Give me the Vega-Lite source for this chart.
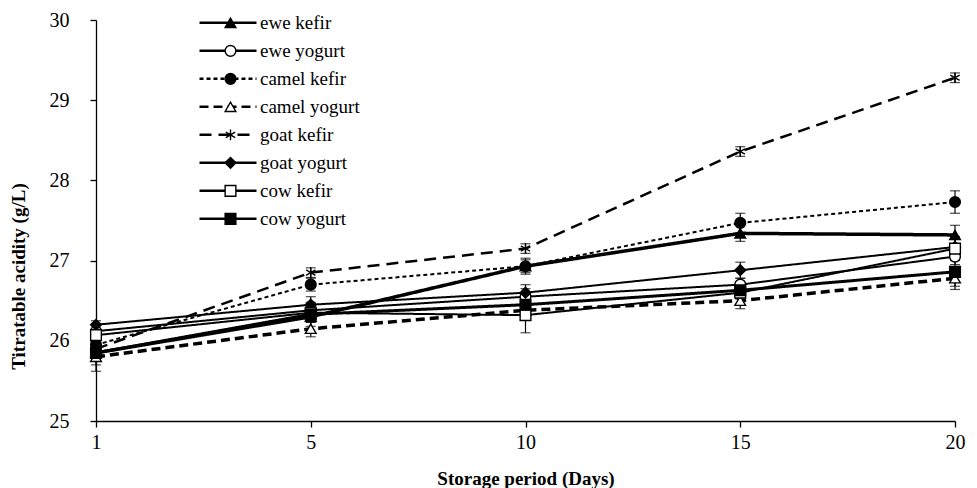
{
  "$schema": "https://vega.github.io/schema/vega-lite/v6.json",
  "width": 859,
  "height": 401,
  "autosize": {"type": "none"},
  "padding": {"left": 96, "top": 20, "right": 22, "bottom": 67},
  "background": "white",
  "config": {
    "view": {"stroke": null},
    "font": "Liberation Serif",
    "axis": {
      "domainColor": "black", "tickColor": "black", "labelColor": "black", "titleColor": "black",
      "grid": false, "labelFont": "Liberation Serif", "titleFont": "Liberation Serif",
      "labelFontSize": 20, "titleFontSize": 19, "titleFontWeight": "bold",
      "domainWidth": 1.3, "tickWidth": 1.3
    },
    "legend": {"labelColor": "black", "labelFont": "Liberation Serif"}
  },
  "data": {
    "values": [
      {"series": "ewe kefir", "day": 1, "value": 25.85, "sd": 0.08},
      {"series": "ewe kefir", "day": 5, "value": 26.3, "sd": 0.12},
      {"series": "ewe kefir", "day": 10, "value": 26.93, "sd": 0.1},
      {"series": "ewe kefir", "day": 15, "value": 27.34, "sd": 0.1},
      {"series": "ewe kefir", "day": 20, "value": 27.32, "sd": 0.12},
      {"series": "ewe yogurt", "day": 1, "value": 26.12, "sd": 0.07},
      {"series": "ewe yogurt", "day": 5, "value": 26.38, "sd": 0.1},
      {"series": "ewe yogurt", "day": 10, "value": 26.55, "sd": 0.1},
      {"series": "ewe yogurt", "day": 15, "value": 26.7, "sd": 0.08},
      {"series": "ewe yogurt", "day": 20, "value": 27.05, "sd": 0.1},
      {"series": "camel kefir", "day": 1, "value": 25.95, "sd": 0.06},
      {"series": "camel kefir", "day": 5, "value": 26.7, "sd": 0.08},
      {"series": "camel kefir", "day": 10, "value": 26.93, "sd": 0.08},
      {"series": "camel kefir", "day": 15, "value": 27.47, "sd": 0.12},
      {"series": "camel kefir", "day": 20, "value": 27.73, "sd": 0.14},
      {"series": "camel yogurt", "day": 1, "value": 25.8, "sd": 0.18},
      {"series": "camel yogurt", "day": 5, "value": 26.15, "sd": 0.1},
      {"series": "camel yogurt", "day": 10, "value": 26.38, "sd": 0.06},
      {"series": "camel yogurt", "day": 15, "value": 26.5, "sd": 0.1},
      {"series": "camel yogurt", "day": 20, "value": 26.78, "sd": 0.1},
      {"series": "goat kefir", "day": 1, "value": 25.9, "sd": 0.06},
      {"series": "goat kefir", "day": 5, "value": 26.85, "sd": 0.06},
      {"series": "goat kefir", "day": 10, "value": 27.15, "sd": 0.06},
      {"series": "goat kefir", "day": 15, "value": 28.36, "sd": 0.06},
      {"series": "goat kefir", "day": 20, "value": 29.28, "sd": 0.06},
      {"series": "goat yogurt", "day": 1, "value": 26.2, "sd": 0.05},
      {"series": "goat yogurt", "day": 5, "value": 26.45, "sd": 0.1},
      {"series": "goat yogurt", "day": 10, "value": 26.6, "sd": 0.1},
      {"series": "goat yogurt", "day": 15, "value": 26.88, "sd": 0.1},
      {"series": "goat yogurt", "day": 20, "value": 27.17, "sd": 0.1},
      {"series": "cow kefir", "day": 1, "value": 26.07, "sd": 0.07},
      {"series": "cow kefir", "day": 5, "value": 26.35, "sd": 0.12},
      {"series": "cow kefir", "day": 10, "value": 26.32, "sd": 0.22},
      {"series": "cow kefir", "day": 15, "value": 26.6, "sd": 0.08},
      {"series": "cow kefir", "day": 20, "value": 27.15, "sd": 0.15},
      {"series": "cow yogurt", "day": 1, "value": 25.85, "sd": 0.15},
      {"series": "cow yogurt", "day": 5, "value": 26.33, "sd": 0.1},
      {"series": "cow yogurt", "day": 10, "value": 26.45, "sd": 0.1},
      {"series": "cow yogurt", "day": 15, "value": 26.63, "sd": 0.1},
      {"series": "cow yogurt", "day": 20, "value": 26.86, "sd": 0.22}
    ]
  },
  "encoding": {
    "x": {
      "field": "day", "type": "ordinal",
      "scale": {"type": "point", "padding": 0, "domain": [1, 5, 10, 15, 20]},
      "axis": {"title": "Storage period (Days)", "labelAngle": 0, "tickSize": 6, "labelPadding": 5, "titleY": 63, "titleBaseline": "alphabetic"}
    },
    "y": {
      "field": "value", "type": "quantitative",
      "scale": {"domain": [25, 30], "nice": false, "zero": false},
      "axis": {"title": "Titratable acidity (g/L)", "values": [25, 26, 27, 28, 29, 30], "format": "d", "tickSize": 6, "labelPadding": 21, "titleAngle": -90, "titleX": -68, "titleY": 256, "titleBaseline": "bottom", "titleAlign": "center"}
    }
  },
  "layer": [
    {
      "mark": {"type": "errorbar", "ticks": {"size": 10, "thickness": 1.2, "color": "black"}, "color": "black", "thickness": 1.2},
      "encoding": {"yError": {"field": "sd"}}
    },
    {
      "mark": {"type": "line", "color": "black"},
      "encoding": {
        "strokeDash": {
          "field": "series", "type": "nominal",
          "scale": {"domain": ["ewe kefir", "ewe yogurt", "camel kefir", "camel yogurt", "goat kefir", "goat yogurt", "cow kefir", "cow yogurt", " "], "range": [[1, 0], [1, 0], [4, 3], [9, 5], [12, 7], [1, 0], [1, 0], [1, 0], [1, 0]]},
          "legend": {
            "values": ["ewe kefir", "ewe yogurt", "camel kefir", "camel yogurt", "goat kefir", "goat yogurt", "cow kefir", "cow yogurt"],
            "orient": "none", "legendX": 102, "legendY": -11, "title": null, "symbolType": "stroke", "symbolSize": 3249,
            "symbolStrokeColor": "black", "symbolStrokeWidth": 2.5, "labelExpr": "''", "labelOffset": 0, "clipHeight": 27.7, "rowPadding": 0, "padding": 0
          }
        },
        "strokeWidth": {
          "field": "series", "type": "nominal",
          "scale": {"type": "ordinal", "range": [2, 3.5, 2, 3, 3.5, 2, 2.5, 2]},
          "legend": null
        }
      }
    },
    {
      "mark": {"type": "point", "filled": true, "strokeWidth": 1.4, "size": 115, "opacity": 1},
      "encoding": {
        "shape": {
          "field": "series", "type": "nominal",
          "scale": {"domain": ["ewe kefir", "ewe yogurt", "camel kefir", "camel yogurt", "goat kefir", "goat yogurt", "cow kefir", "cow yogurt"], "range": ["triangle-up", "circle", "circle", "triangle-up", "M0,-1L0,1M-0.87,-0.5L0.87,0.5M-0.87,0.5L0.87,-0.5", "diamond", "square", "square"]},
          "legend": {"orient": "none", "legendX": 125, "legendY": -11, "title": null, "symbolSize": 115, "symbolStrokeColor": "black", "symbolStrokeWidth": 1.4, "labelFontSize": 19, "labelOffset": 20, "clipHeight": 27.7, "rowPadding": 0, "padding": 0}
        },
        "fill": {
          "field": "series", "type": "nominal",
          "scale": {"domain": ["ewe kefir", "ewe yogurt", "camel kefir", "camel yogurt", "goat kefir", "goat yogurt", "cow kefir", "cow yogurt"], "range": ["black", "white", "black", "white", "black", "black", "white", "black"]},
          "legend": {"orient": "none", "legendX": 125, "legendY": -11, "title": null, "symbolSize": 115, "symbolStrokeColor": "black", "symbolStrokeWidth": 1.4, "labelFontSize": 19, "labelOffset": 20, "clipHeight": 27.7, "rowPadding": 0, "padding": 0}
        },
        "stroke": {
          "field": "series", "type": "nominal",
          "scale": {"domain": ["ewe kefir", "ewe yogurt", "camel kefir", "camel yogurt", "goat kefir", "goat yogurt", "cow kefir", "cow yogurt"], "range": ["black", "black", "black", "black", "black", "black", "black", "black"]},
          "legend": {"orient": "none", "legendX": 125, "legendY": -11, "title": null, "symbolSize": 115, "symbolStrokeColor": "black", "symbolStrokeWidth": 1.4, "labelFontSize": 19, "labelOffset": 20, "clipHeight": 27.7, "rowPadding": 0, "padding": 0}
        }
      }
    }
  ]
}
